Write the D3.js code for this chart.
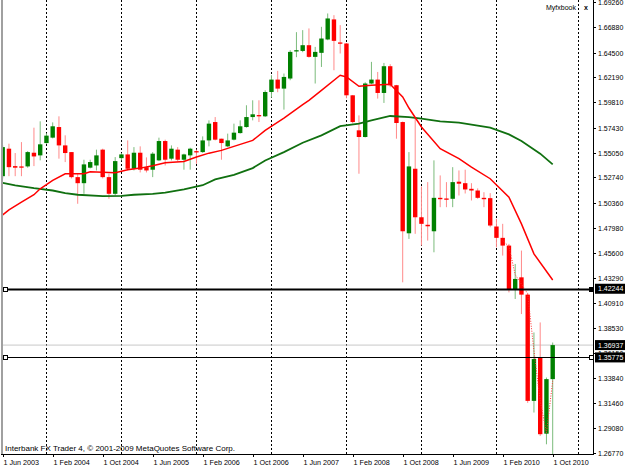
<!DOCTYPE html>
<html>
<head>
<meta charset="utf-8">
<script src="https://cdn.jsdelivr.net/npm/d3@7/dist/d3.min.js"></script>
<style>
  body { margin: 0; background: #fff; }
  svg { display: block; font-family: "Liberation Sans", Arial, sans-serif; }
</style>
</head>
<body>
<svg id="chart" width="625" height="469"></svg>
<script>
// monthly candles, Jun 2003 .. Oct 2010 (index 0 .. 88)
const opens = [1.5285,1.5544,1.5380,1.5377,1.5377,1.5506,1.5481,1.5597,1.5648,1.5748,
  1.5575,1.5512,1.5276,1.5219,1.5365,1.5386,1.5535,1.5276,1.5119,1.5455,
  1.5490,1.5355,1.5506,1.5370,1.5346,1.5434,1.5616,1.5450,1.5535,1.5440,
  1.5481,1.5521,1.5512,1.5622,1.5795,1.5638,1.5566,1.5629,1.5691,1.5748,
  1.5842,1.5861,1.5849,1.6078,1.6195,1.6110,1.6205,1.6460,1.6465,1.6519,
  1.6409,1.6447,1.6573,1.6762,1.6545,1.6535,1.6047,1.5717,1.5654,1.6158,
  1.6195,1.6069,1.6321,1.6142,1.5795,1.4747,1.5355,1.4898,1.4827,1.4766,
  1.5081,1.5075,1.5072,1.5233,1.5219,1.5166,1.5150,1.5081,1.5078,1.4811,
  1.4704,1.4631,1.4213,1.4332,1.4169,1.3168,1.3577,1.2859,1.3373];
const highs = [1.5575,1.5591,1.5503,1.5606,1.5521,1.5742,1.5802,1.5689,1.5792,1.5849,
  1.5670,1.5512,1.5308,1.5440,1.5440,1.5535,1.5544,1.5308,1.5465,1.5503,
  1.5622,1.5559,1.5566,1.5462,1.5512,1.5648,1.5629,1.5575,1.5559,1.5497,
  1.5553,1.5535,1.5660,1.5811,1.5842,1.5638,1.5686,1.5780,1.5811,1.5953,
  1.6000,1.6000,1.6094,1.6236,1.6277,1.6252,1.6472,1.6642,1.6661,1.6677,
  1.6503,1.6692,1.6818,1.6802,1.6708,1.6540,1.6050,1.5858,1.6170,1.6362,
  1.6267,1.6352,1.6340,1.6145,1.5800,1.5512,1.5827,1.5188,1.5229,1.5434,
  1.5292,1.5229,1.5370,1.5339,1.5346,1.5219,1.5170,1.5134,1.5125,1.4883,
  1.4836,1.4647,1.4458,1.4584,1.4180,1.3813,1.3907,1.3388,1.3718];
const lows = [1.5264,1.5285,1.5285,1.5285,1.5365,1.5380,1.5434,1.5591,1.5641,1.5450,
  1.5418,1.5264,1.5025,1.5119,1.5358,1.5339,1.5264,1.5072,1.5103,1.5434,
  1.5339,1.5339,1.5320,1.5320,1.5276,1.5427,1.5386,1.5434,1.5424,1.5346,
  1.5346,1.5402,1.5505,1.5566,1.5622,1.5440,1.5559,1.5622,1.5686,1.5742,
  1.5811,1.5795,1.5842,1.6025,1.6076,1.5912,1.6189,1.6406,1.6453,1.6401,
  1.6158,1.6314,1.6566,1.6283,1.6441,1.6019,1.5783,1.5308,1.5650,1.6151,
  1.6016,1.5975,1.6123,1.5638,1.4285,1.4694,1.4742,1.4631,1.4678,1.4568,
  1.4993,1.4993,1.4993,1.5103,1.5122,1.5056,1.5072,1.4993,1.4804,1.4615,
  1.4537,1.4190,1.4128,1.3986,1.3149,1.3058,1.2838,1.2759,1.2660];
const closes = [1.5559,1.5370,1.5365,1.5368,1.5512,1.5471,1.5585,1.5667,1.5755,1.5575,
  1.5503,1.5276,1.5219,1.5396,1.5418,1.5481,1.5276,1.5119,1.5427,1.5490,
  1.5355,1.5506,1.5346,1.5339,1.5497,1.5616,1.5440,1.5544,1.5440,1.5490,
  1.5544,1.5512,1.5622,1.5780,1.5629,1.5597,1.5622,1.5695,1.5755,1.5842,
  1.5868,1.5852,1.6078,1.6195,1.6110,1.6220,1.6456,1.6472,1.6519,1.6409,
  1.6456,1.6582,1.6771,1.6560,1.6535,1.6047,1.5795,1.5654,1.6158,1.6195,
  1.6069,1.6321,1.6142,1.5786,1.4766,1.5377,1.4898,1.4836,1.4813,1.5081,
  1.5068,1.5065,1.5229,1.5214,1.5160,1.5150,1.5081,1.5068,1.4820,1.4704,
  1.4631,1.4213,1.4317,1.4169,1.3168,1.3562,1.2854,1.3373,1.36937];

// moving averages (bar index, value)
const fastMaIdx = [0,1,3,5,6,8,10,13,14,18,20,22,24,26,29,31,33,35,37,40,42,45,48,49,51,54,55,57,59,62,64,65,67,70,73,75,78,81,83,85,88];
const fastMa = [1.4921,1.4968,1.5040,1.5110,1.5166,1.5245,1.5308,1.5308,1.5327,1.5318,1.5346,1.5361,1.5383,1.5412,1.5424,1.5465,1.5502,1.5528,1.5566,1.5622,1.5717,1.5833,1.5960,1.6000,1.6094,1.6236,1.6220,1.6132,1.6142,1.6151,1.6031,1.5927,1.5748,1.5544,1.5450,1.5370,1.5261,1.5087,1.4836,1.4553,1.4307];
const slowMaIdx = [0,2,5,8,10,12,16,19,21,24,26,29,32,34,37,40,42,45,48,51,54,57,59,62,65,67,70,73,75,78,81,83,86,88];
const slowMa = [1.5223,1.5198,1.5172,1.5150,1.5125,1.5110,1.5097,1.5100,1.5110,1.5119,1.5131,1.5160,1.5200,1.5254,1.5298,1.5361,1.5433,1.5512,1.5600,1.5670,1.5757,1.5780,1.5811,1.5852,1.5842,1.5827,1.5802,1.5789,1.5771,1.5742,1.5679,1.5616,1.5497,1.5396];
const dotIdx = [80,81,82,84,85,86,87,88];
const dotVals = [1.4679,1.4622,1.4357,1.4178,1.3640,1.3168,1.2866,1.3357];

// axes
const yTicks = [1.6926,1.6688,1.6450,1.6219,1.5981,1.5743,1.5505,1.5274,1.5036,1.4798,1.4560,1.4329,1.4091,1.3853,1.3615,1.3384,1.3146,1.2908,1.2677];
const xLabelIdx = [0,8,16,24,32,40,48,56,64,72,80,88];
const xLabels = ["1 Jun 2003","1 Feb 2004","1 Oct 2004","1 Jun 2005","1 Feb 2006","1 Oct 2006",
  "1 Jun 2007","1 Feb 2008","1 Oct 2008","1 Jun 2009","1 Feb 2010","1 Oct 2010"];
const gridIdx = [7,19,31,43,55,67,79,92];

// horizontal lines / price tags
const hLines = [1.42244, 1.35775];
const bidPrice = 1.36937;

const width = 625;
const height = 469;
const plot = { left: 2, right: 593, top: 0, bottom: 454 };

const svg = d3.select("#chart");

const x = d3.scaleLinear().domain([0, 88]).range([2.7, 552.7]);
const y = d3.scaleLinear().domain([1.2677, 1.6926]).range([453, 2]);

svg.append("rect").attr("width", width).attr("height", height).attr("fill", "#fff");

svg.append("clipPath").attr("id", "clip")
  .append("rect")
  .attr("x", plot.left).attr("y", plot.top)
  .attr("width", plot.right - plot.left).attr("height", plot.bottom - plot.top);

const g = svg.append("g").attr("clip-path", "url(#clip)");

// dashed vertical grid
g.selectAll(".grid")
  .data(gridIdx)
  .enter()
  .append("line")
  .attr("class", "grid")
  .attr("x1", (d) => Math.round(x(d)) + 0.5)
  .attr("x2", (d) => Math.round(x(d)) + 0.5)
  .attr("y1", plot.top)
  .attr("y2", plot.bottom)
  .attr("stroke", "#000")
  .attr("stroke-width", 1)
  .attr("stroke-dasharray", "2,2");

// bid line
g.append("line")
  .attr("x1", plot.left).attr("x2", plot.right)
  .attr("y1", y(bidPrice)).attr("y2", y(bidPrice))
  .attr("stroke", "#c8c8c8").attr("stroke-width", 1);

const candles = d3.range(opens.length).map((i) => ({
  i,
  o: opens[i],
  h: highs[i],
  l: lows[i],
  c: closes[i],
}));

const upBody = "#008000";
const downBody = "#ff0000";

const cg = g.selectAll(".candle").data(candles).enter().append("g").attr("class", "candle");

cg.append("line")
  .attr("x1", (d) => x(d.i))
  .attr("x2", (d) => x(d.i))
  .attr("y1", (d) => y(d.h))
  .attr("y2", (d) => y(d.l))
  .attr("stroke", (d) => (d.c >= d.o ? "#7cbc7c" : "#ff8a8a"))
  .attr("stroke-width", 1);

cg.append("rect")
  .attr("x", (d) => x(d.i) - 2.2)
  .attr("width", 4.4)
  .attr("y", (d) => y(Math.max(d.o, d.c)))
  .attr("height", (d) => Math.max(1.3, Math.abs(y(d.o) - y(d.c))))
  .attr("fill", (d) => (d.c >= d.o ? upBody : downBody));

// moving averages
const maLine = d3.line().x((d) => x(d[0])).y((d) => y(d[1]));

g.append("path")
  .datum(slowMaIdx.map((d, k) => [d, slowMa[k]]))
  .attr("d", maLine)
  .attr("fill", "none")
  .attr("stroke", "#107010")
  .attr("stroke-width", 1.8);

g.append("path")
  .datum(fastMaIdx.map((d, k) => [d, fastMa[k]]))
  .attr("d", maLine)
  .attr("fill", "none")
  .attr("stroke", "#ff0000")
  .attr("stroke-width", 1.5);

g.append("path")
  .datum(dotIdx.map((d, k) => [d, dotVals[k]]))
  .attr("d", maLine)
  .attr("fill", "none")
  .attr("stroke", "#ff3030")
  .attr("stroke-width", 1)
  .attr("stroke-dasharray", "1,1.5");

// horizontal lines with end markers
hLines.forEach((v, k) => {
  const yy = Math.round(y(v)) + 0.5;
  svg.append("line")
    .attr("x1", plot.left + 2).attr("x2", plot.right)
    .attr("y1", yy).attr("y2", yy)
    .attr("stroke", "#000")
    .attr("stroke-width", k === 0 ? 2 : 1);
  svg.append("rect")
    .attr("x", plot.left + 1.5).attr("y", yy - 2)
    .attr("width", 4).attr("height", 4)
    .attr("fill", "#fff").attr("stroke", "#000").attr("stroke-width", 1);
  svg.append("rect")
    .attr("x", plot.right - 3.5).attr("y", yy - 2)
    .attr("width", 4).attr("height", 4)
    .attr("fill", k === 0 ? "#000" : "#fff").attr("stroke", "#000").attr("stroke-width", 1);
});

// frame
svg.append("line")
  .attr("x1", 2).attr("x2", 2).attr("y1", 0).attr("y2", plot.bottom)
  .attr("stroke", "#a0a0a0").attr("stroke-width", 2);
svg.append("line")
  .attr("x1", plot.right + 0.5).attr("x2", plot.right + 0.5).attr("y1", 0).attr("y2", plot.bottom + 0.5)
  .attr("stroke", "#000").attr("stroke-width", 1);
svg.append("line")
  .attr("x1", 1).attr("x2", plot.right + 1).attr("y1", plot.bottom + 0.5).attr("y2", plot.bottom + 0.5)
  .attr("stroke", "#000").attr("stroke-width", 1);

// price axis
const yAxis = svg.append("g");
yTicks.forEach((v) => {
  const yy = Math.round(y(v)) + 0.5;
  yAxis.append("line")
    .attr("x1", plot.right).attr("x2", plot.right + 3)
    .attr("y1", yy).attr("y2", yy)
    .attr("stroke", "#000");
  yAxis.append("text")
    .attr("x", plot.right + 5)
    .attr("y", yy + 2.5)
    .attr("font-size", "7px")
    .attr("fill", "#000")
    .text(d3.format(".5f")(v));
});

// time axis
const xAxis = svg.append("g");
xLabelIdx.forEach((d, k) => {
  const xx = Math.round(x(d)) + 0.5;
  xAxis.append("line")
    .attr("x1", xx).attr("x2", xx)
    .attr("y1", plot.bottom).attr("y2", plot.bottom + 3)
    .attr("stroke", "#000");
  xAxis.append("text")
    .attr("x", xx)
    .attr("y", plot.bottom + 11)
    .attr("font-size", "7.2px")
    .attr("fill", "#000")
    .text(xLabels[k]);
});

// price tags on the right
const tags = [hLines[0], bidPrice, hLines[1]];
tags.forEach((v) => {
  const yy = y(v);
  svg.append("rect")
    .attr("x", plot.right + 2)
    .attr("y", yy - 5)
    .attr("width", width - plot.right - 2)
    .attr("height", 10)
    .attr("fill", "#000");
  svg.append("text")
    .attr("x", plot.right + 5)
    .attr("y", yy + 2.5)
    .attr("font-size", "7px")
    .attr("fill", "#fff")
    .text(d3.format(".5f")(v));
});

// corner labels
svg.append("text")
  .attr("x", 546)
  .attr("y", 10)
  .attr("font-size", "7px")
  .attr("fill", "#000")
  .text("Myfxbook");
svg.append("text")
  .attr("x", 584)
  .attr("y", 10)
  .attr("font-size", "7px")
  .attr("font-weight", "bold")
  .attr("fill", "#000")
  .text("x");

svg.append("text")
  .attr("x", 5)
  .attr("y", 451)
  .attr("font-size", "8px")
  .attr("fill", "#000")
  .text("Interbank FX Trader 4, © 2001-2009 MetaQuotes Software Corp.");
</script>
</body>
</html>
